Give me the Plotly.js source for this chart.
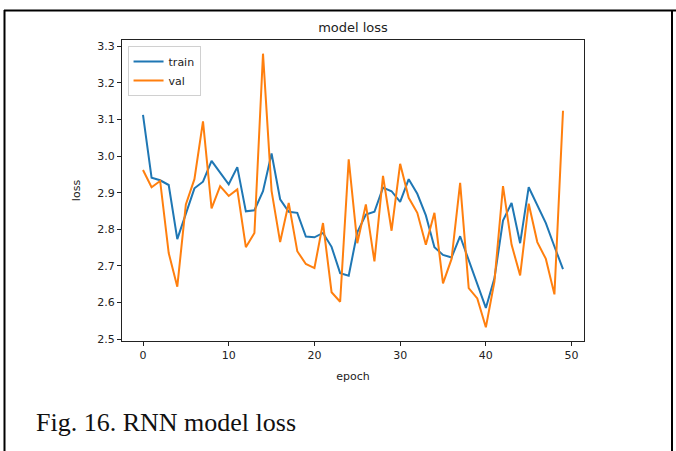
<!DOCTYPE html>
<html>
<head>
<meta charset="utf-8">
<script src="https://cdn.plot.ly/plotly-3.0.1.min.js"></script>
<style>html,body{margin:0;padding:0;background:#fff;}#chart{width:676px;height:451px;}</style>
</head>
<body>
<div id="chart"></div>
<script>
const epochs = Array.from({length: 50}, (_, i) => i);
const trainLoss = [3.113, 2.941, 2.934, 2.921, 2.773, 2.840, 2.912, 2.930, 2.987, 2.955,
  2.923, 2.970, 2.849, 2.852, 2.904, 3.007, 2.882, 2.848, 2.845, 2.780,
  2.778, 2.790, 2.752, 2.680, 2.673, 2.792, 2.840, 2.848, 2.914, 2.904,
  2.875, 2.937, 2.897, 2.838, 2.751, 2.730, 2.723, 2.781, 2.714, 2.648,
  2.585, 2.666, 2.824, 2.872, 2.762, 2.915, 2.868, 2.817, 2.753, 2.691];
const valLoss = [2.962, 2.915, 2.932, 2.735, 2.643, 2.868, 2.937, 3.095, 2.857, 2.918,
  2.891, 2.909, 2.751, 2.790, 3.280, 2.905, 2.765, 2.872, 2.740, 2.705,
  2.694, 2.817, 2.628, 2.602, 2.991, 2.762, 2.868, 2.712, 2.946, 2.796,
  2.979, 2.886, 2.845, 2.758, 2.845, 2.652, 2.719, 2.927, 2.639, 2.611,
  2.532, 2.657, 2.918, 2.758, 2.674, 2.870, 2.765, 2.719, 2.622, 3.124];
const seriesNames = ["train", "val"];
const chartTitle = "model loss";
const xTitle = "epoch";
const yTitle = "loss";
const caption = "Fig. 16. RNN model loss";

const axisFont = {family: "DejaVu Sans", size: 11, color: "#222"};
const traces = [
  {x: epochs, y: trainLoss, name: seriesNames[0], type: "scatter", mode: "lines",
   line: {color: "#1f77b4", width: 2}},
  {x: epochs, y: valLoss, name: seriesNames[1], type: "scatter", mode: "lines",
   line: {color: "#ff7f0e", width: 2}}
];
const layout = {
  width: 676, height: 451,
  margin: {l: 122, r: 92, t: 40, b: 110},
  paper_bgcolor: "#fff", plot_bgcolor: "#fff",
  showlegend: true,
  title: {text: chartTitle, font: {family: "DejaVu Sans", size: 13, color: "#222"},
          x: 0.5, xref: "paper", xanchor: "center", y: 1 - 27/451, yref: "container", yanchor: "middle"},
  xaxis: {range: [-2.45, 51.45], tickvals: [0, 10, 20, 30, 40, 50], ticks: "outside", ticklen: 4,
          tickcolor: "#222", showgrid: false, zeroline: false, showline: true, linecolor: "#222",
          linewidth: 1, mirror: true, tickfont: axisFont,
          title: {text: xTitle, font: axisFont, standoff: 11}},
  yaxis: {range: [2.4946, 3.3174], tickvals: [2.5, 2.6, 2.7, 2.8, 2.9, 3.0, 3.1, 3.2, 3.3],
          tickformat: ".1f", ticks: "outside", ticklen: 4,
          tickcolor: "#222", showgrid: false, zeroline: false, showline: true, linecolor: "#222",
          linewidth: 1, mirror: true, tickfont: axisFont,
          title: {text: yTitle, font: axisFont, standoff: 14}},
  legend: {x: 0.012, y: 0.98, xanchor: "left", yanchor: "top", bgcolor: "rgba(255,255,255,0.8)",
           bordercolor: "#d0d0d0", borderwidth: 1, font: {family: "DejaVu Sans", size: 11, color: "#222"},
           itemwidth: 30, tracegroupgap: 2},
  annotations: [
    {text: caption, xref: "paper", yref: "paper", x: (34 - 122)/462, y: (341 - 422)/301,
     xanchor: "left", yanchor: "middle", showarrow: false,
     font: {family: "Liberation Serif", size: 26, color: "#111"}}
  ],
  shapes: [
    {type: "line", xref: "paper", yref: "paper", x0: (4 - 122)/462, x1: (676 - 122)/462,
     y0: (341 - 10.5)/301, y1: (341 - 10.5)/301, line: {color: "#000", width: 2}},
    {type: "line", xref: "paper", yref: "paper", x0: (4.5 - 122)/462, x1: (4.5 - 122)/462,
     y0: (341 - 10)/301, y1: (341 - 451)/301, line: {color: "#000", width: 2}},
    {type: "line", xref: "paper", yref: "paper", x0: (672 - 122)/462, x1: (672 - 122)/462,
     y0: (341 - 10)/301, y1: (341 - 451)/301, line: {color: "#000", width: 2}}
  ]
};
Plotly.newPlot("chart", traces, layout, {displayModeBar: false, staticPlot: true});
</script>
</body>
</html>
